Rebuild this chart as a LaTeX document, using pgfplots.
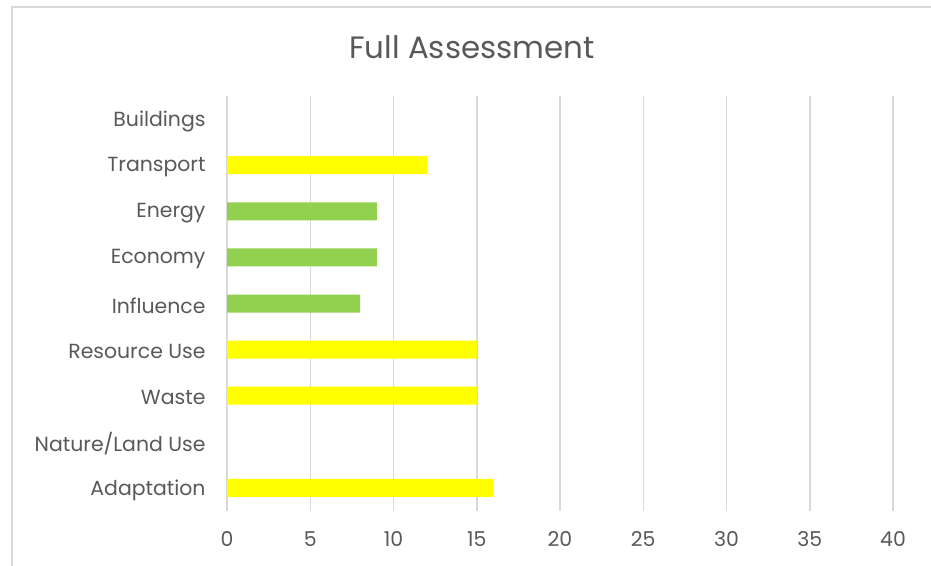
\documentclass[border=0pt]{standalone}
\usepackage{pgfplots}
\pgfplotsset{compat=1.18}
\usepackage{fontspec}
\setmainfont{Poppins}
\definecolor{txt}{HTML}{595959}
\definecolor{gridc}{HTML}{D9D9D9}
\definecolor{ybar}{HTML}{FFFF00}
\definecolor{gbar}{HTML}{92D050}
\begin{document}
\begin{tikzpicture}[x=1bp,y=1bp]
\useasboundingbox (0,0) rectangle (931,566);
\fill[white] (0,0) rectangle (931,566);
\draw[gridc, line width=1.5bp] (12,0) -- (12,559) -- (931,559);
\node[txt, font=\fontsize{31}{37}\selectfont] at (472,519) {Full Assessment};
\begin{axis}[at={(227bp,55bp)}, anchor=south west, scale only axis,
  width=666bp, height=415bp,
  xmin=0, xmax=40, ymin=-0.5, ymax=8.5, y dir=reverse,
  xtick={0,5,...,40}, ytick={0,...,8},
  yticklabels={Buildings,Transport,Energy,Economy,Influence,Resource Use,Waste,Nature/Land Use,Adaptation},
  xmajorgrids, grid style={gridc, line width=1.5bp},
  axis line style={draw=none}, major tick length=0pt,
  tick label style={txt, font=\fontsize{20.5}{24}\selectfont},
  /pgf/number format/assume math mode=true,
  yticklabel style={xshift=-18bp, yshift=-2bp},
  xticklabel style={yshift=-17bp},
  xbar, bar width=18bp, bar shift=0pt,
  clip=false]
\addplot[draw=none, fill=ybar] coordinates {(12,1) (15,5) (15,6) (16,8)};
\addplot[draw=none, fill=gbar] coordinates {(9,2) (9,3) (8,4)};
\end{axis}
\end{tikzpicture}
\end{document}
